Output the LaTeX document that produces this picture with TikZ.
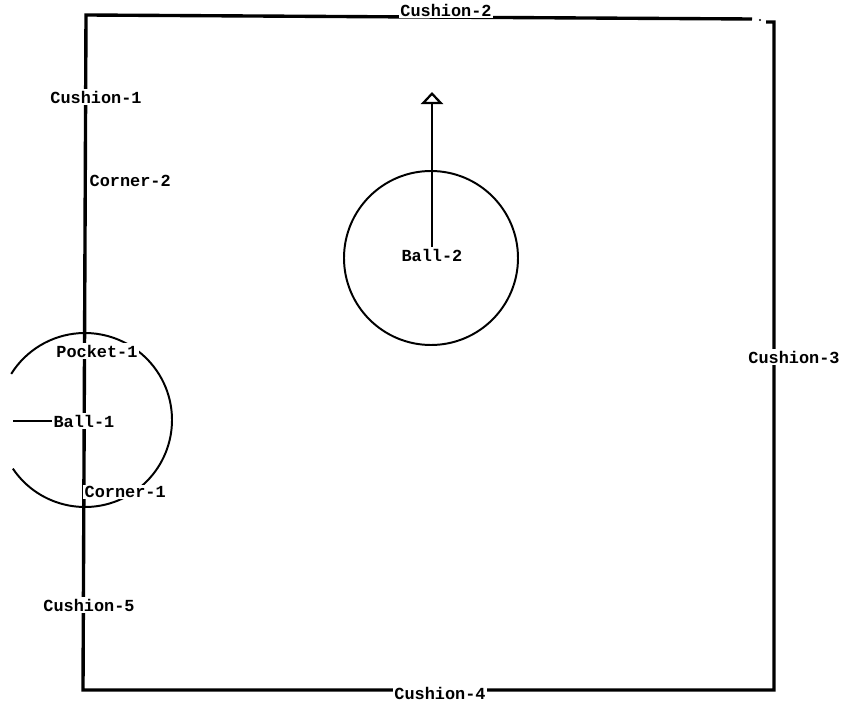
\documentclass[tikz,border=0pt]{standalone}
\usepackage{fontspec}
\setmonofont{Liberation Mono}
\usetikzlibrary{arrows.meta}

\tikzset{
  lbl/.style={font=\ttfamily\bfseries\fontsize{12}{12}\selectfont, fill=white, inner sep=1pt},
  cushion/.style={line width=2.4pt},
  ball/.style={line width=1.4pt}
}

\begin{document}
\begin{tikzpicture}[x=0.025cm,y=-0.025cm,>={Triangle[open,width=0.55cm,length=0.3cm,line width=1.6pt]}]
			\useasboundingbox (0,0) rectangle (851,709);
			\coordinate (TL) at (86,15);
			\coordinate (TR) at (752,19);
			\coordinate (RT) at (766,22);
			\coordinate (RC) at (774,22);
			\coordinate (BR) at (774,690);
			\coordinate (BL) at (83,690);
			
			\draw[cushion] (TR)--(TL)--(BL)--(BR)--(RC)--(RT);
			\fill (760,20) circle (1.2);
			
			\draw[ball] (431,258) circle (87);
			\draw[ball] (85,420) ++(146:87) arc (146:-148:87);
			
			\node[lbl] (c2) at (446,10) {Cushion-2};
			\node[lbl] (c1) at (96,97) {Cushion-1};
			\node[lbl,anchor=west] (k2) at (88,181) {Corner-2};
			\node[lbl] (b2) at (432,255) {Ball-2};
			\node[lbl] (p1) at (97,351) {Pocket-1};
			\node[lbl] (c3) at (794,357) {Cushion-3};
			\node[lbl] (b1) at (84,421) {Ball-1};
			\node[lbl,anchor=west] (k1) at (83,492) {Corner-1};
			\node[lbl] (c5) at (89,605) {Cushion-5};
			\node[lbl] (c4) at (440,693) {Cushion-4};
			
			\coordinate (v2) at (432,92);
			\coordinate (v1) at (13,421);
			\draw[ball,->] (b2.north)--(v2);
			\draw[ball] (b1.west)--(v1);
		\end{tikzpicture}
\end{document}
